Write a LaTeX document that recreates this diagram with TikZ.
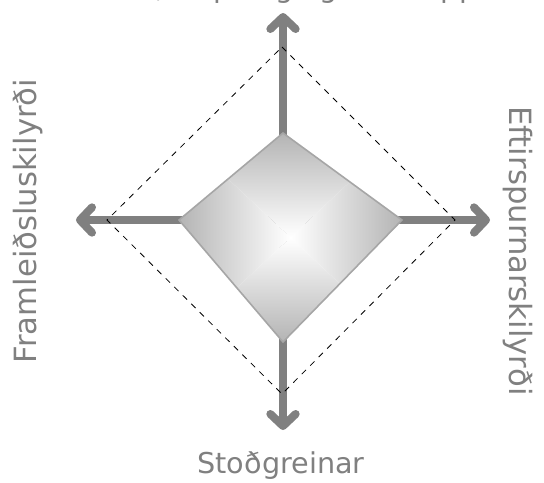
\documentclass[tikz,border=0pt]{standalone}
\usepackage{fontspec}
\setmainfont{DejaVu Sans}
\usetikzlibrary{arrows.meta}
\definecolor{axisgray}{HTML}{808080}
\definecolor{edgegray}{HTML}{A6A6A6}
\definecolor{shadegray}{HTML}{B4B4B4}
\tikzset{axis/.style={line width=6pt,axisgray,-{Straight Barb[round,length=9pt,width=19pt]}}}
\tikzset{guide/.style={black,line width=0.6pt,dash pattern=on 4.5pt off 4.5pt}}
\tikzset{lbl/.style={text=axisgray,font=\fontsize{21.5}{26}\selectfont,inner sep=0pt}}
\tikzset{sidelbl/.style={lbl,font=\fontsize{23}{28}\selectfont}}

\begin{document}
\begin{tikzpicture}[x=0.75pt,y=-0.75pt]
        \useasboundingbox (0,0) rectangle (544,483);
        \coordinate (c) at (283,220);
        \coordinate (n) at (283,13);
        \coordinate (s) at (283,430);
        \coordinate (w) at (76,220);
        \coordinate (e) at (490,220);
        \coordinate (dn) at (282,47);
        \coordinate (de) at (455,220);
        \coordinate (ds) at (282,394);
        \coordinate (dw) at (107,220);
        \coordinate (kt) at (283,133);
        \coordinate (kr) at (402,220);
        \coordinate (kb) at (283,342);
        \coordinate (kl) at (179,220);
        \coordinate (m) at (290.5,237.5);
        \draw[axis] (c) -- (n);
        \draw[axis] (c) -- (s);
        \draw[axis] (c) -- (w);
        \draw[axis] (c) -- (e);
        \draw[guide] (dn) -- (de) -- (ds) -- (dw) -- cycle;
        \begin{scope}
            \clip (kt) -- (kr) -- (kb) -- (kl) -- cycle;
            \shade[top color=shadegray,bottom color=white] (m) -- (179,133) -- (402,133) -- cycle;
            \shade[top color=white,bottom color=shadegray] (m) -- (179,342) -- (402,342) -- cycle;
            \shade[left color=shadegray,right color=white] (m) -- (179,133) -- (179,342) -- cycle;
            \shade[left color=white,right color=shadegray] (m) -- (402,133) -- (402,342) -- cycle;
        \end{scope}
        \draw[edgegray,line width=1.2pt] (kt) -- (kr) -- (kb) -- (kl) -- cycle;
        \node[lbl,anchor=base] (strat) at (283,-3) {Stefna, skipulag og samkeppni};
        \node[lbl,anchor=base] (supp) at (281,473) {Stoðgreinar};
        \node[sidelbl,rotate=90] (fact) at (28,221) {Framleiðsluskilyrði};
        \node[sidelbl,rotate=-90] (dem) at (518,251) {Eftirspurnarskilyrði};
    \end{tikzpicture}
\end{document}
